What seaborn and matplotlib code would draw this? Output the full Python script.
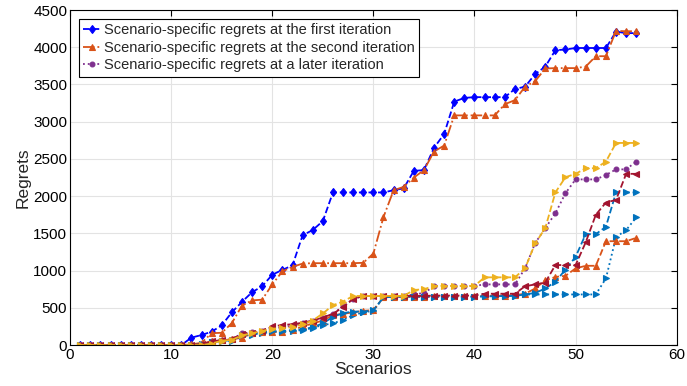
import numpy as np
import pandas as pd
import matplotlib
matplotlib.use("Agg")
import matplotlib.pyplot as plt
import seaborn as sns

sns.set_style("whitegrid")
plt.rcParams['font.family'] = ['Liberation Sans', 'DejaVu Sans']

scenarios = list(range(1, 57))
zeros = [0] * 11

# regrets per scenario (x = 1..56)
first_iter = zeros + [100, 135, 180, 265, 440, 580, 710, 790, 945, 1010, 1070, 1475, 1545, 1665,
                      2050, 2050, 2050, 2050, 2050, 2050, 2080, 2105, 2340, 2350, 2650, 2835,
                      3270, 3320, 3330, 3330, 3330, 3330, 3440, 3470, 3640, 3740, 3960, 3970,
                      3990, 3990, 3990, 3990, 4210, 4190, 4190]
second_iter = zeros + [10, 30, 160, 165, 295, 530, 600, 610, 815, 990, 1050, 1095, 1100, 1100,
                       1100, 1100, 1100, 1105, 1230, 1720, 2080, 2125, 2250, 2350, 2600, 2680,
                       3085, 3085, 3085, 3085, 3085, 3235, 3290, 3470, 3545, 3715, 3720, 3720,
                       3720, 3740, 3880, 3880, 4220, 4215, 4215]
later_iter = zeros + [0, 10, 50, 65, 75, 160, 170, 195, 225, 240, 260, 290, 320, 360,
                      420, 520, 620, 660, 660, 660, 660, 660, 680, 700, 790, 795,
                      795, 795, 795, 815, 815, 815, 815, 1030, 1370, 1570, 1770, 2040,
                      2225, 2225, 2225, 2285, 2360, 2360, 2465]
yellow_run = zeros + [0, 0, 20, 60, 70, 130, 160, 190, 220, 230, 240, 280, 330, 425,
                      535, 585, 660, 660, 660, 660, 660, 660, 740, 750, 795, 795,
                      795, 795, 795, 910, 910, 910, 910, 1030, 1365, 1570, 2050, 2255,
                      2300, 2375, 2375, 2465, 2715, 2715, 2715]
red_run = zeros + [0, 10, 50, 65, 75, 150, 165, 185, 250, 270, 280, 300, 330, 370,
                   420, 510, 620, 660, 660, 660, 660, 660, 660, 660, 665, 665,
                   665, 665, 665, 690, 690, 690, 690, 790, 815, 840, 1075, 1075,
                   1075, 1380, 1750, 1915, 1950, 2300, 2300]
blue_dash_run = zeros + [0, 10, 40, 55, 65, 130, 150, 170, 185, 190, 200, 210, 240, 290,
                         380, 430, 450, 450, 470, 640, 650, 650, 650, 650, 650, 650,
                         650, 650, 650, 655, 655, 660, 660, 680, 700, 760, 850, 1015,
                         1185, 1490, 1490, 1590, 2050, 2050, 2050]
blue_dot_run = zeros + [0, 5, 35, 50, 60, 120, 140, 160, 175, 180, 190, 200, 230, 270,
                        290, 340, 400, 440, 460, 640, 650, 650, 650, 650, 650, 650,
                        650, 650, 650, 655, 660, 660, 665, 680, 680, 680, 680, 680,
                        680, 680, 680, 895, 1450, 1545, 1715]
orange_dash_run = zeros + [0, 20, 50, 65, 75, 100, 160, 180, 180, 180, 200, 250, 290, 330,
                           400, 420, 440, 460, 470, 640, 650, 650, 650, 650, 655, 655,
                           655, 660, 660, 660, 665, 665, 670, 690, 760, 870, 915, 930,
                           1030, 1065, 1065, 1395, 1395, 1395, 1440]

series = [
    (first_iter, '#0000FF', '--', 'd', 4.5, 'Scenario-specific regrets at the first iteration'),
    (second_iter, '#D95319', '-.', '^', 4.5, 'Scenario-specific regrets at the second iteration'),
    (later_iter, '#7E2F8E', ':', 'o', 3.5, 'Scenario-specific regrets at a later iteration'),
    (blue_dot_run, '#0072BD', ':', '>', 4.5, None),
    (orange_dash_run, '#D95319', '--', '^', 4.5, None),
    (blue_dash_run, '#0072BD', '--', '>', 4.5, None),
    (red_run, '#A2142F', '--', '<', 4.5, None),
    (yellow_run, '#EDB120', '--', '>', 4.5, None),
]

fig = plt.figure(figsize=(6.87, 3.86), dpi=100)
ax = fig.add_axes([0.102, 0.106, 0.883, 0.868])

handles = []
for vals, color, ls, mk, ms, label in series:
    sns.lineplot(x=scenarios, y=vals, ax=ax, color=color, linestyle=ls, marker=mk,
                 markersize=ms, markeredgewidth=0.8, markeredgecolor=color,
                 linewidth=1.3)
    if label:
        handles.append(ax.lines[-1])
        handles[-1].set_label(label)

ax.set_xlim(0, 60)
ax.set_ylim(0, 4500)
ax.set_xticks(range(0, 61, 10))
ax.set_yticks(range(0, 4501, 500))
ax.set_xlabel("Scenarios", fontsize=12.5, labelpad=0)
ax.set_ylabel("Regrets", fontsize=12.5, labelpad=2)
ax.tick_params(direction='in', length=4, width=0.8, top=True, right=True,
               labelsize=11, colors='black', pad=2)
ax.grid(True, color='#e3e3e3', linewidth=0.8)
for s in ax.spines.values():
    s.set_color('black')
    s.set_linewidth(0.8)

leg = ax.legend(handles=handles, loc='upper left', fontsize=10.5, frameon=True,
                fancybox=False, edgecolor='black', handlelength=1.2, handletextpad=0.2,
                borderpad=0.3, labelspacing=0.25, borderaxespad=0.6, framealpha=1)
leg.get_frame().set_linewidth(0.8)

fig.savefig("out.png", dpi=100)
